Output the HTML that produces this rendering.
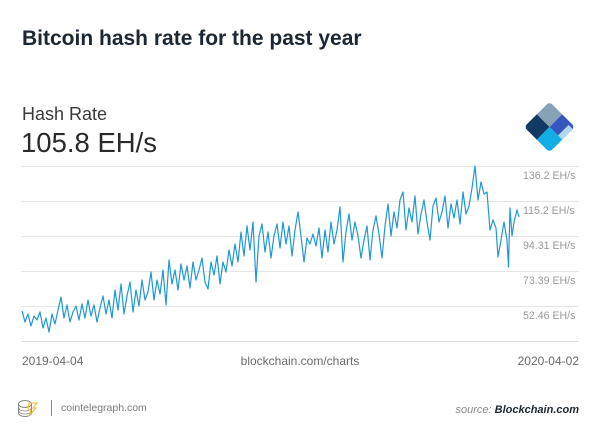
<!DOCTYPE html>
<html><head><meta charset="utf-8"><style>
html,body{margin:0;padding:0;background:#fff;}
svg{display:block;font-family:"Liberation Sans",Arial,sans-serif;}
</style></head><body>
<svg width="600" height="438" viewBox="0 0 600 438" xmlns="http://www.w3.org/2000/svg">
<defs>
  <clipPath id="dia"><rect x="-18" y="-18" width="36" height="36" rx="4"/></clipPath>
</defs>
<rect width="600" height="438" fill="#fff"/>
<text x="22" y="45" font-size="21" font-weight="bold" fill="#1d2733">Bitcoin hash rate for the past year</text>
<text x="22" y="120" font-size="18" fill="#3a3a3a">Hash Rate</text>
<text x="21" y="152" font-size="27.5" fill="#2a2a2a">105.8 EH/s</text>

<g transform="translate(549.5,127) rotate(45)">
  <g clip-path="url(#dia)">
    <rect x="-18" y="-18" width="18" height="18" fill="#85a2b7"/>
    <rect x="-18" y="0" width="18" height="18" fill="#123b63"/>
    <rect x="0" y="-18" width="18" height="18" fill="#3556bf"/>
    <rect x="12" y="-15" width="6" height="15" fill="#b3d6ea"/>
    <rect x="0" y="0" width="18" height="18" fill="#10aee5"/>
  </g>
</g>

<g stroke="#e6e6e6" stroke-width="1">
  <line x1="21" y1="166.5" x2="579" y2="166.5"/>
  <line x1="21" y1="201.5" x2="579" y2="201.5"/>
  <line x1="21" y1="236.5" x2="579" y2="236.5"/>
  <line x1="21" y1="271.5" x2="579" y2="271.5"/>
  <line x1="21" y1="306.5" x2="579" y2="306.5"/>
  <line x1="21" y1="341.5" x2="579" y2="341.5" stroke="#dcdcdc"/>
</g>
<g font-size="10.6" fill="#9a9a9a">
  <text x="523" y="179">136.2 EH/s</text>
  <text x="523" y="214">115.2 EH/s</text>
  <text x="523" y="249">94.31 EH/s</text>
  <text x="523" y="284">73.39 EH/s</text>
  <text x="523" y="319">52.46 EH/s</text>
</g>

<polyline fill="none" stroke="#1f98d2" stroke-width="1.2" stroke-linejoin="round" points="
22,311 25,322 28,314 31,326 34,316 37,320 40,312 43,328 46,318 49,332 52,314 55,324 58,310
61,297 64,318 67,305 70,322 73,312 76,306 79,320 82,304 85,318 88,300 91,316 94,305 97,322 100,308
103,296 106,314 109,300 112,318 115,290 118,310 121,284 124,314 127,296 130,282 133,312 136,290 139,306 142,280 145,300 148,292
151,272 154,300 157,280 160,294 163,270 166,305 169,260 172,284 175,270 178,290 181,264 184,280
187,266 190,288 193,262 196,280 199,270 202,258 205,282 208,289 211,262 214,275 217,256 220,284 223,262
226,272 229,250 232,266 235,244 238,262 241,232 244,256 247,226 250,250 253,222 256,282 259,236
262,224 265,252 268,232 271,258 274,236 277,224 280,248 283,222 286,244 289,226 292,256 295,230 298,212
301,236 304,262 307,238 310,244 313,234 316,246 319,228 322,258 325,230 328,252 331,222 334,244 337,230 340,207
343,262 346,232 349,214 352,240 355,222 358,236 361,258 364,240 367,226 370,260 373,230 376,216 379,234 382,258 385,226
388,204 391,236 394,212 397,228 400,200 403,192 406,230 409,208 412,222 415,196 418,234 421,214 424,200 427,222 430,240
433,206 436,198 439,222 442,212 445,196 448,228 451,204 454,218 457,200 460,224 463,192 466,214 469,206 472,188
475,166 478,200 481,182 484,194 487,192 490,230 493,220 496,228 498,257 501,240 504,222 507,240 508.5,267 510,208 512,236 514,222 517,210 519,217"/>

<g font-size="12" fill="#6a6a6a">
  <text x="22" y="365">2019-04-04</text>
  <text x="300" y="365" text-anchor="middle">blockchain.com/charts</text>
  <text x="579" y="365" text-anchor="end">2020-04-02</text>
</g>

<g transform="translate(18,400)">
  <ellipse cx="7" cy="4" rx="6.5" ry="3.5" fill="none" stroke="#888" stroke-width="1"/>
  <path d="M0.5,4 v9 a6.5,3.5 0 0 0 13,0 v-9" fill="none" stroke="#888" stroke-width="1"/>
  <path d="M0.5,7.5 a6.5,3.5 0 0 0 13,0 M0.5,10.5 a6.5,3.5 0 0 0 13,0" fill="none" stroke="#888" stroke-width="0.8"/>
  <path d="M11,3 h8 l-4,5 h3 l-7,8 l2,-6 h-3 z" fill="none" stroke="#f2b632" stroke-width="1"/>
</g>
<line x1="51.5" y1="400" x2="51.5" y2="416" stroke="#888" stroke-width="1"/>
<text x="61" y="411" font-size="10.5" fill="#7a7a7a">cointelegraph.com</text>
<text x="579" y="413" font-size="11" text-anchor="end" font-style="italic"><tspan fill="#8a8a8a">source: </tspan><tspan fill="#1d2733" font-weight="bold">Blockchain.com</tspan></text>
</svg>
</body></html>
